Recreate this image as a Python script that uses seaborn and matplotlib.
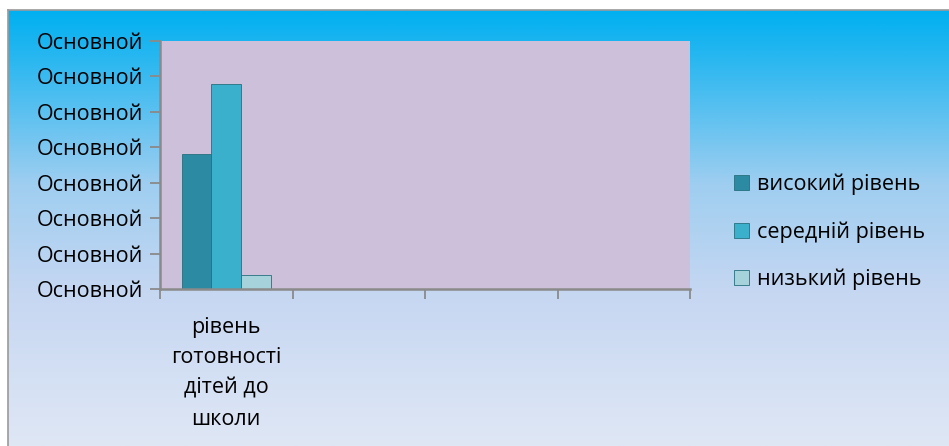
import numpy as np
import pandas as pd
import matplotlib
matplotlib.use("Agg")
import matplotlib.pyplot as plt
import seaborn as sns
from matplotlib.colors import LinearSegmentedColormap

categories = ["рівень\nготовності\nдітей до\nшколи"]
series = ["високий рівень", "середній рівень", "низький рівень"]
values = [38, 58, 4]
ytick_values = [0, 10, 20, 30, 40, 50, 60, 70]
ytick_labels = ["Основной"] * 8

colors = ["#2c8aa2", "#3bb0cc", "#a6d2dc"]

sns.set_theme(style="white")
plt.rcParams["font.family"] = ["Open Sans", "DejaVu Sans"]

df = pd.DataFrame({"cat": categories * len(series), "series": series, "value": values})

fig = plt.figure(figsize=(9.49, 4.46), dpi=100)
fig.patch.set_facecolor("white")

# gradient background
bg = fig.add_axes([8 / 949, 0, 1 - 8 / 949, 1 - 10 / 446], zorder=0)
cmap = LinearSegmentedColormap.from_list(
    "bg", [(0.0, "#00b0f0"), (0.12, "#2db8f0"), (0.4, "#9fcef0"), (0.65, "#c6d7f2"), (1.0, "#dfe7f5")]
)
grad = np.linspace(0, 1, 256).reshape(-1, 1)
bg.imshow(grad, aspect="auto", cmap=cmap, extent=[0, 1, 0, 1], origin="upper")
bg.set_xticks([])
bg.set_yticks([])
for s in ["right", "bottom"]:
    bg.spines[s].set_visible(False)
for s in ["left", "top"]:
    bg.spines[s].set_color("#9a9a9a")
    bg.spines[s].set_linewidth(1.2)

ax = fig.add_axes([160 / 949, 1 - 289 / 446, 530 / 949, 248 / 446], zorder=1)
ax.set_facecolor("#ccc0da")
sns.barplot(data=df, x="cat", y="value", hue="series", hue_order=series,
            palette=colors, saturation=1, width=0.67, ax=ax, legend=True,
            edgecolor="#25707f", linewidth=0.6)
ax.set_xlim(-0.5, 3.5)
ax.set_ylim(0, 70)
ax.set_yticks(ytick_values)
ax.set_yticklabels(ytick_labels, fontsize=15.5, color="black")
ax.set_xticks([0])
ax.set_xticklabels(categories, fontsize=15.5, color="black", linespacing=1.6)
ax.set_xticks([-0.5, 0.5, 1.5, 2.5, 3.5], minor=True)
ax.tick_params(axis="x", which="major", length=0, pad=20)
ax.tick_params(axis="x", which="minor", length=7, width=1.3, color="#8a8a8a", direction="out", bottom=True)
ax.tick_params(axis="y", which="major", length=7, width=1.3, color="#8a8a8a", direction="out", left=True, pad=5)
ax.set_xlabel("")
ax.set_ylabel("")
for s in ["top", "right"]:
    ax.spines[s].set_visible(False)
for s in ["left", "bottom"]:
    ax.spines[s].set_color("#8a8a8a")
    ax.spines[s].set_linewidth(1.8)

leg = ax.legend(loc="center left", bbox_to_anchor=(715 / 949, 1 - 232 / 446),
                bbox_transform=fig.transFigure, frameon=False, fontsize=15.5,
                handlelength=0.7, handleheight=0.7, handletextpad=0.35, labelspacing=1.2)
for t in leg.get_texts():
    t.set_color("black")

fig.savefig("out.png", dpi=100)
